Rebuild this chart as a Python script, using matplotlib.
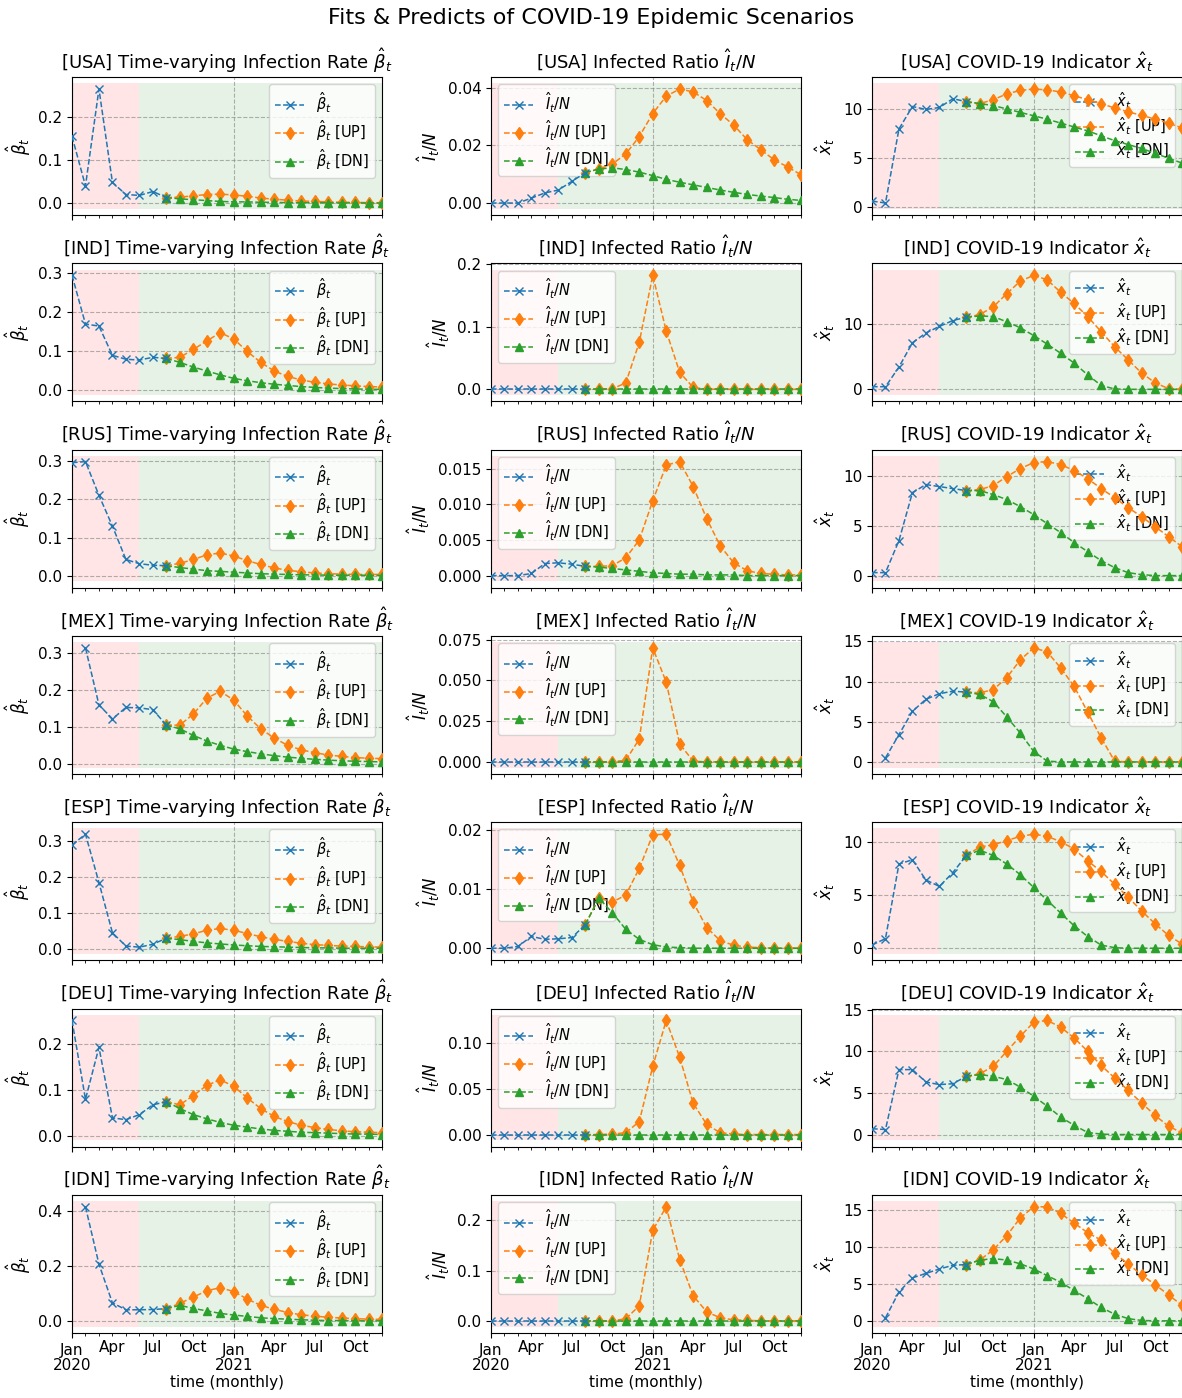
import numpy as np
import matplotlib.pyplot as plt
import pandas as pd

# time axis: monthly, Jan 2020 .. Dec 2021
months = pd.date_range("2020-01-01", periods=24, freq="MS")
countries = ["USA", "IND", "RUS", "MEX", "ESP", "DEU", "IDN"]
nan = np.nan

# fitted values Jan 2020 .. Aug 2020, scenarios Aug 2020 .. Dec 2021
usa_beta = [0.155, 0.04, 0.265, 0.048, 0.02, 0.018, 0.027, 0.013]
usa_beta_up = [0.013, 0.014, 0.017, 0.02, 0.021, 0.019, 0.016, 0.012, 0.009, 0.007, 0.005, 0.004, 0.003, 0.002, 0.002, 0.001, 0.001]
usa_beta_dn = [0.013, 0.01, 0.008, 0.006, 0.004, 0.003, 0.003, 0.002, 0.002, 0.001, 0.001, 0.001, 0.001, 0.0005, 0.0005, 0.0003, 0.0003]
usa_inf = [0.0, 0.0, 0.0, 0.0017, 0.0035, 0.0045, 0.0075, 0.0105]
usa_inf_up = [0.0105, 0.0118, 0.0135, 0.017, 0.023, 0.031, 0.037, 0.0395, 0.0385, 0.0355, 0.031, 0.027, 0.022, 0.0185, 0.015, 0.0125, 0.0098]
usa_inf_dn = [0.0105, 0.0118, 0.0122, 0.0116, 0.0107, 0.0095, 0.0082, 0.0072, 0.0063, 0.0054, 0.0045, 0.0037, 0.003, 0.0024, 0.0019, 0.0013, 0.0009]
usa_x = [0.6, 0.4, 8.0, 10.3, 10.0, 10.2, 11.1, 10.8]
usa_x_up = [10.8, 10.6, 11.0, 11.6, 11.95, 12.1, 12.0, 11.8, 11.4, 11.0, 10.6, 10.15, 9.75, 9.4, 9.0, 8.6, 8.1]
usa_x_dn = [10.8, 10.6, 10.4, 10.05, 9.7, 9.35, 9.0, 8.6, 8.2, 7.8, 7.3, 6.8, 6.4, 6.0, 5.5, 5.0, 4.5]

ind_beta = [0.295, 0.17, 0.165, 0.09, 0.08, 0.078, 0.085, 0.082]
ind_beta_up = [0.082, 0.085, 0.105, 0.127, 0.148, 0.132, 0.1, 0.072, 0.05, 0.036, 0.027, 0.021, 0.017, 0.014, 0.012, 0.01, 0.009]
ind_beta_dn = [0.082, 0.072, 0.06, 0.05, 0.04, 0.031, 0.025, 0.02, 0.016, 0.013, 0.01, 0.008, 0.006, 0.005, 0.004, 0.003, 0.003]
ind_inf = [0.0, 0.0, 0.0, 0.0, 0.0, 0.0, 0.0, 0.0]
ind_inf_up = [0.0, 0.0002, 0.001, 0.01, 0.075, 0.182, 0.093, 0.027, 0.003, 0.0002, 0.0001, 0.0, 0.0, 0.0, 0.0, 0.0, 0.0]
ind_inf_dn = [0.0] * 17
ind_x = [0.4, 0.4, 3.4, 7.1, 8.6, 9.6, 10.5, 11.0]
ind_x_up = [11.0, 11.4, 12.6, 14.6, 16.5, 17.4, 16.7, 14.8, 13.1, 11.1, 8.8, 6.5, 4.5, 2.5, 1.0, 0.1, 0.0]
ind_x_dn = [11.0, 11.2, 11.1, 10.3, 9.4, 8.2, 6.9, 5.5, 4.0, 2.2, 0.6, 0.05, 0.0, 0.0, 0.0, 0.0, 0.0]

rus_beta = [0.295, 0.298, 0.21, 0.13, 0.043, 0.032, 0.028, 0.027]
rus_beta_up = [0.027, 0.033, 0.043, 0.055, 0.06, 0.052, 0.04, 0.03, 0.021, 0.015, 0.011, 0.008, 0.006, 0.005, 0.004, 0.004, 0.004]
rus_beta_dn = [0.027, 0.022, 0.018, 0.014, 0.012, 0.01, 0.008, 0.006, 0.005, 0.004, 0.003, 0.003, 0.002, 0.002, 0.002, 0.002, 0.001]
rus_inf = [0.0, 0.0, 0.0, 0.0003, 0.0017, 0.0018, 0.0016, 0.0013]
rus_inf_up = [0.0013, 0.0013, 0.0014, 0.0025, 0.005, 0.0105, 0.0155, 0.016, 0.0125, 0.008, 0.0042, 0.0018, 0.0007, 0.0003, 0.0002, 0.0001, 0.0001]
rus_inf_dn = [0.0013, 0.0012, 0.001, 0.0008, 0.0006, 0.0004, 0.0003, 0.0002, 0.0002, 0.0001, 0.0001, 0.0001, 0.0, 0.0, 0.0, 0.0, 0.0]
rus_x = [0.3, 0.3, 3.5, 8.3, 9.1, 8.9, 8.7, 8.5]
rus_x_up = [8.5, 8.6, 9.0, 9.9, 10.7, 11.3, 11.4, 11.1, 10.5, 9.7, 8.7, 7.8, 6.8, 5.9, 4.9, 3.9, 2.9]
rus_x_dn = [8.5, 8.5, 8.1, 7.6, 6.9, 6.1, 5.2, 4.3, 3.3, 2.4, 1.5, 0.8, 0.3, 0.1, 0.0, 0.0, 0.0]

mex_beta = [nan, 0.315, 0.16, 0.122, 0.153, 0.152, 0.147, 0.105]
mex_beta_up = [0.105, 0.105, 0.135, 0.178, 0.197, 0.173, 0.13, 0.095, 0.07, 0.05, 0.038, 0.03, 0.024, 0.02, 0.017, 0.015, 0.014]
mex_beta_dn = [0.105, 0.095, 0.077, 0.062, 0.05, 0.04, 0.033, 0.027, 0.022, 0.018, 0.015, 0.012, 0.01, 0.008, 0.007, 0.006, 0.005]
mex_inf = [0.0, 0.0, 0.0, 0.0, 0.0, 0.0, 0.0, 0.0]
mex_inf_up = [0.0, 0.0, 0.0002, 0.001, 0.014, 0.07, 0.049, 0.011, 0.0005, 0.0, 0.0, 0.0, 0.0, 0.0, 0.0, 0.0, 0.0]
mex_inf_dn = [0.0] * 17
mex_x = [nan, 0.5, 3.4, 6.3, 7.8, 8.5, 8.8, 8.7]
mex_x_up = [8.7, 8.6, 9.0, 10.5, 12.7, 14.2, 13.7, 11.7, 9.4, 6.2, 3.0, 0.1, 0.0, 0.0, 0.0, 0.0, 0.0]
mex_x_dn = [8.7, 8.4, 7.5, 5.6, 3.6, 1.3, 0.1, 0.0, 0.0, 0.0, 0.0, 0.0, 0.0, 0.0, 0.0, 0.0, 0.0]

esp_beta = [0.29, 0.32, 0.185, 0.045, 0.008, 0.005, 0.013, 0.03]
esp_beta_up = [0.03, 0.035, 0.042, 0.052, 0.057, 0.052, 0.043, 0.034, 0.027, 0.021, 0.016, 0.012, 0.01, 0.008, 0.007, 0.006, 0.005]
esp_beta_dn = [0.03, 0.026, 0.021, 0.017, 0.014, 0.011, 0.009, 0.007, 0.006, 0.005, 0.004, 0.003, 0.003, 0.002, 0.002, 0.002, 0.002]
esp_inf = [0.0, 0.0, 0.0003, 0.002, 0.0015, 0.0016, 0.0018, 0.004]
esp_inf_up = [0.004, 0.0085, 0.0078, 0.009, 0.0135, 0.0192, 0.0193, 0.014, 0.0078, 0.0035, 0.0013, 0.0005, 0.0002, 0.0001, 0.0, 0.0, 0.0]
esp_inf_dn = [0.004, 0.0085, 0.006, 0.0032, 0.0015, 0.0006, 0.0002, 0.0001, 0.0, 0.0, 0.0, 0.0, 0.0, 0.0, 0.0, 0.0, 0.0]
esp_x = [0.3, 0.9, 7.9, 8.3, 6.4, 5.8, 7.1, 8.7]
esp_x_up = [8.7, 9.5, 9.7, 10.1, 10.5, 10.7, 10.5, 10.0, 9.3, 8.2, 7.2, 6.0, 4.8, 3.5, 2.3, 1.2, 0.4]
esp_x_dn = [8.7, 9.2, 8.7, 7.9, 6.9, 5.7, 4.5, 3.3, 2.1, 1.1, 0.3, 0.05, 0.0, 0.0, 0.0, 0.0, 0.0]

deu_beta = [0.25, 0.08, 0.192, 0.04, 0.036, 0.047, 0.068, 0.075]
deu_beta_up = [0.075, 0.068, 0.088, 0.11, 0.122, 0.108, 0.083, 0.06, 0.043, 0.032, 0.024, 0.019, 0.015, 0.012, 0.01, 0.009, 0.008]
deu_beta_dn = [0.075, 0.06, 0.047, 0.038, 0.03, 0.024, 0.02, 0.016, 0.013, 0.011, 0.009, 0.008, 0.007, 0.006, 0.005, 0.005, 0.004]
deu_inf = [0.0, 0.0, 0.0, 0.0, 0.0, 0.0, 0.0, 0.0]
deu_inf_up = [0.0, 0.0, 0.0005, 0.002, 0.014, 0.074, 0.124, 0.084, 0.034, 0.011, 0.002, 0.0005, 0.0, 0.0, 0.0, 0.0, 0.0]
deu_inf_dn = [0.0] * 17
deu_x = [0.7, 0.6, 7.8, 7.8, 6.3, 6.0, 6.1, 7.0]
deu_x_up = [7.0, 7.3, 8.2, 10.0, 11.8, 13.5, 13.7, 12.9, 11.6, 10.0, 8.3, 6.8, 5.3, 3.8, 2.3, 1.0, 0.2]
deu_x_dn = [7.0, 7.2, 7.0, 6.6, 5.7, 4.6, 3.4, 2.1, 1.1, 0.25, 0.05, 0.0, 0.0, 0.0, 0.0, 0.0, 0.0]

idn_beta = [nan, 0.415, 0.207, 0.067, 0.042, 0.042, 0.043, 0.046]
idn_beta_up = [0.046, 0.065, 0.088, 0.111, 0.122, 0.108, 0.081, 0.058, 0.044, 0.032, 0.024, 0.019, 0.015, 0.012, 0.01, 0.008, 0.007]
idn_beta_dn = [0.046, 0.058, 0.047, 0.038, 0.029, 0.023, 0.018, 0.013, 0.01, 0.008, 0.006, 0.004, 0.003, 0.003, 0.002, 0.002, 0.002]
idn_inf = [0.0, 0.0, 0.0, 0.0, 0.0, 0.0, 0.0, 0.0]
idn_inf_up = [0.0, 0.0, 0.0, 0.004, 0.03, 0.18, 0.227, 0.122, 0.05, 0.018, 0.006, 0.002, 0.001, 0.0, 0.0, 0.0, 0.0]
idn_inf_dn = [0.0] * 17
idn_x = [nan, 0.4, 3.9, 5.8, 6.4, 7.0, 7.5, 7.6]
idn_x_up = [7.6, 8.2, 9.6, 11.5, 13.9, 15.4, 15.4, 14.5, 13.2, 11.9, 10.9, 9.1, 7.7, 6.2, 4.9, 3.5, 2.1]
idn_x_dn = [7.6, 8.2, 8.4, 8.2, 7.7, 7.0, 6.1, 5.2, 4.1, 3.0, 1.8, 0.9, 0.3, 0.05, 0.0, 0.0, 0.0]

rows = [
    [(usa_beta, usa_beta_up, usa_beta_dn), (usa_inf, usa_inf_up, usa_inf_dn), (usa_x, usa_x_up, usa_x_dn)],
    [(ind_beta, ind_beta_up, ind_beta_dn), (ind_inf, ind_inf_up, ind_inf_dn), (ind_x, ind_x_up, ind_x_dn)],
    [(rus_beta, rus_beta_up, rus_beta_dn), (rus_inf, rus_inf_up, rus_inf_dn), (rus_x, rus_x_up, rus_x_dn)],
    [(mex_beta, mex_beta_up, mex_beta_dn), (mex_inf, mex_inf_up, mex_inf_dn), (mex_x, mex_x_up, mex_x_dn)],
    [(esp_beta, esp_beta_up, esp_beta_dn), (esp_inf, esp_inf_up, esp_inf_dn), (esp_x, esp_x_up, esp_x_dn)],
    [(deu_beta, deu_beta_up, deu_beta_dn), (deu_inf, deu_inf_up, deu_inf_dn), (deu_x, deu_x_up, deu_x_dn)],
    [(idn_beta, idn_beta_up, idn_beta_dn), (idn_inf, idn_inf_up, idn_inf_dn), (idn_x, idn_x_up, idn_x_dn)],
]

symbols = [r"$\hat{\beta}_t$", r"$\hat{I}_t/N$", r"$\hat{x}_t$"]
titles = ["Time-varying Infection Rate", "Infected Ratio", "COVID-19 Indicator"]
legend_locs = ["upper right", "upper left", "upper right"]

FC_START = 7       # Aug 2020
SPLIT = 5          # Jun 2020, end of red zone
N_MONTHS = len(months)

W, H = 1182, 1398
fig = plt.figure(figsize=(W / 100, H / 100), dpi=100)
col_left = [72, 491, 872]
ax_w, ax_h = 310, 138
row_top0, row_pitch = 77, 186.3


def draw_panel(ax, fit, up, dn, sym, title, loc):
    fit = np.array(fit, dtype=float)
    up = np.array(up, dtype=float)
    dn = np.array(dn, dtype=float)
    x_fit = np.arange(len(fit))
    x_fc = np.arange(FC_START, FC_START + len(up))
    allv = np.concatenate([fit, up, dn])
    lo, hi = np.nanmin(allv), np.nanmax(allv)
    pad = 0.05 * (hi - lo)
    ax.fill_between([0, SPLIT], lo - pad, hi + pad, color="red", alpha=0.1, lw=0)
    ax.fill_between([SPLIT, N_MONTHS - 1], lo - pad, hi + pad, color="green", alpha=0.1, lw=0)
    l_up, = ax.plot(x_fc, up, "--d", color="tab:orange", ms=6, lw=1.1, label=sym + " [UP]", zorder=3)
    l_dn, = ax.plot(x_fc, dn, "--^", color="tab:green", ms=6, lw=1.1, label=sym + " [DN]", zorder=4)
    l_fit, = ax.plot(x_fit, fit, "--x", color="tab:blue", ms=6, lw=1.1, label=sym, zorder=5)
    leg = ax.legend(handles=[l_fit, l_up, l_dn], loc=loc, fontsize=10.5, labelspacing=0.25)
    leg.set_zorder(2.5)   # the curves run over the legend box
    ax.set_title(title, fontsize=13)
    ax.set_ylabel(sym, fontsize=12)
    ax.set_xlim(0, N_MONTHS - 1)

    major = [i for i, m in enumerate(months) if m.month == 1]
    ax.set_xticks(major)
    ax.set_xticks(range(N_MONTHS), minor=True)
    ax.grid(True, which="major", linestyle="--", color="gray", alpha=0.6)
    ax.tick_params(labelsize=11)
    ax.tick_params(axis="x", which="minor", length=2)


for r, country in enumerate(countries):
    for c in range(3):
        top = row_top0 + r * row_pitch
        ax = fig.add_axes([col_left[c] / W, 1 - (top + ax_h) / H, ax_w / W, ax_h / H])
        fit, up, dn = rows[r][c]
        title = f"[{country}] {titles[c]} {symbols[c]}"
        draw_panel(ax, fit, up, dn, symbols[c], title, legend_locs[c])
        if r == len(countries) - 1:
            major = [i for i, m in enumerate(months) if m.month == 1]
            ax.set_xticklabels([f"{months[i]:%b}\n{months[i]:%Y}" for i in major], linespacing=1.05)
            ax.set_xticklabels([f"{m:%b}" if m.month in (4, 7, 10) else "" for m in months], minor=True)
            ax.tick_params(axis="x", which="minor", labelsize=11)
            ax.set_xlabel("time (monthly)", fontsize=11, labelpad=1)
        else:
            ax.set_xticklabels([])
            ax.set_xticklabels([], minor=True)

fig.suptitle("Fits & Predicts of COVID-19 Epidemic Scenarios", fontsize=16, y=1 - 18 / H, va="center")
fig.savefig("out.png", dpi=100)
